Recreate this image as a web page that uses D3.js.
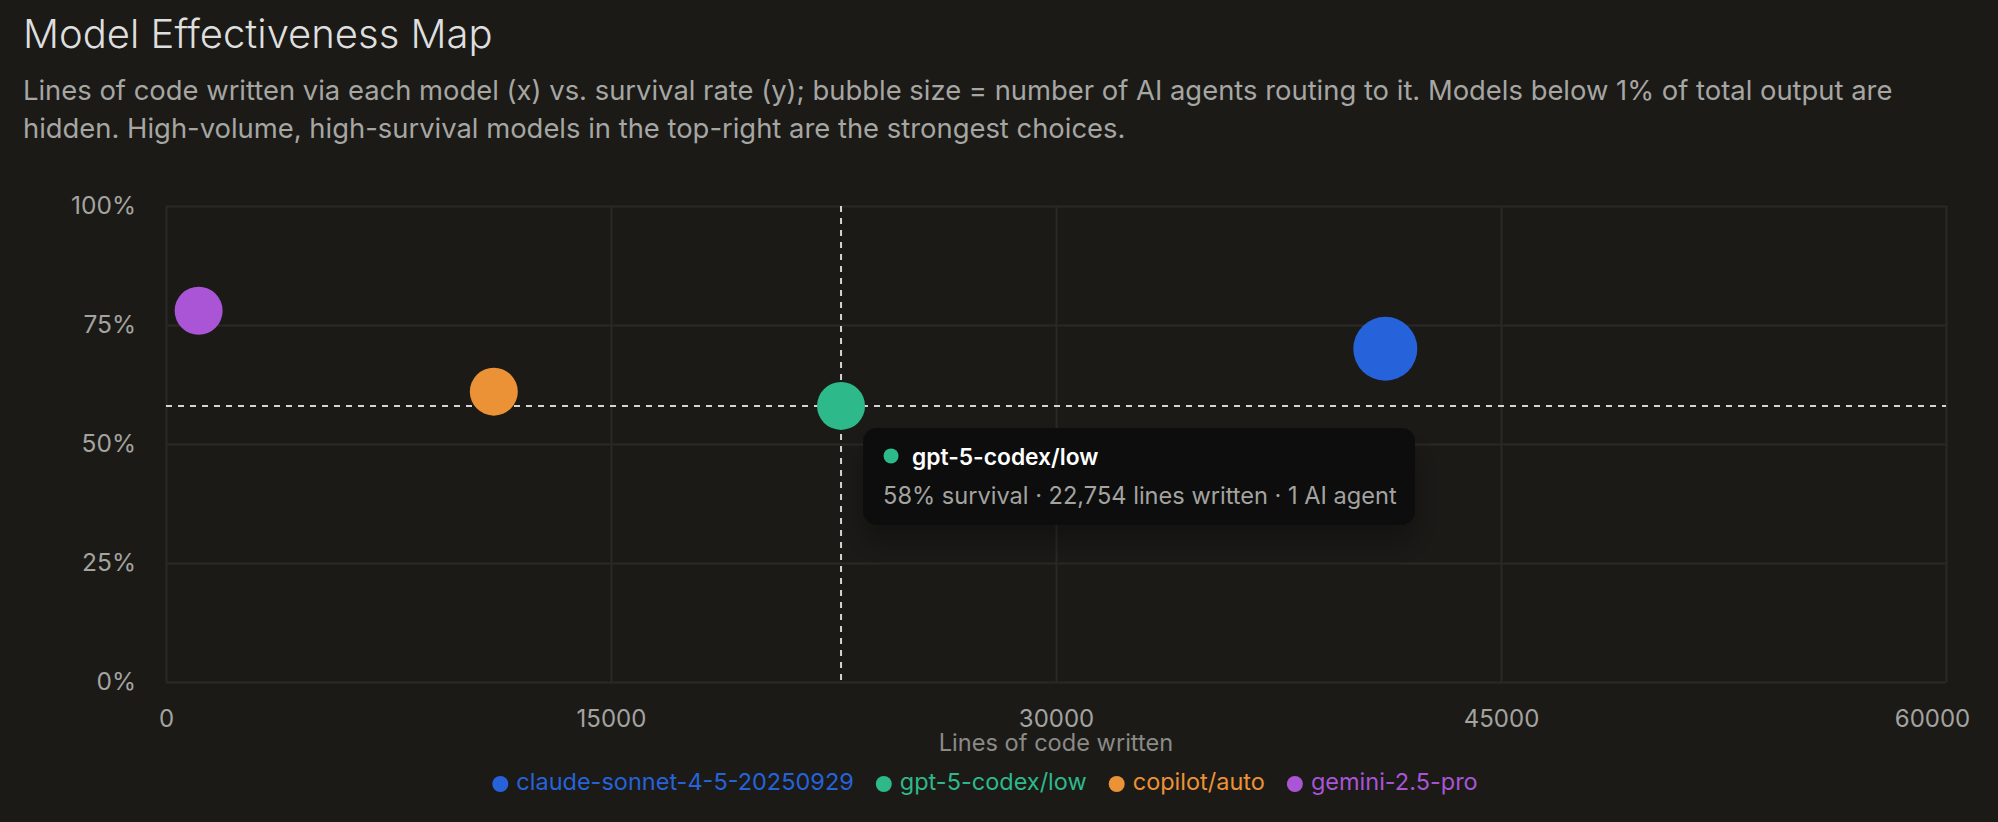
<html>
<head>
  <script src="https://cdn.jsdelivr.net/npm/d3@7"></script>
  <style>
    body { margin: 0; background: #1b1a17; }
    svg text { font-family: Inter, "Noto Sans", sans-serif; }
    .grid line, .grid path { stroke: #2a2926; stroke-width: 2; }
  </style>
</head>
<body>
  <svg id="chart" width="1998" height="822"></svg>
  <script>
    // data
    const models = ["claude-sonnet-4-5-20250929", "gpt-5-codex/low", "copilot/auto", "gemini-2.5-pro"];
    const linesWritten = [41100, 22754, 11050, 1100];
    const survival = [0.70, 0.58, 0.61, 0.78];
    const agents = [2, 1, 1, 1];
    const colors = ["#2663db", "#2eb98a", "#ec9236", "#a955d6"];
    const xTicks = [0, 15000, 30000, 45000, 60000];
    const yTicks = [0, 0.25, 0.5, 0.75, 1];
    const hovered = 1;

    const margin = { top: 206, right: 52, bottom: 140, left: 166 };
    const width = 1998, height = 822;
    const chartWidth = width - margin.left - margin.right;
    const chartHeight = height - margin.top - margin.bottom;

    const svg = d3.select("svg#chart");

    svg.append("text").attr("x", 23).attr("y", 48)
      .attr("font-size", 40).attr("font-weight", 300).attr("fill", "#dedede")
      .text("Model Effectiveness Map");
    const sub = svg.append("text").attr("font-size", 27.4).attr("fill", "#a6a6a3");
    sub.append("tspan").attr("x", 23).attr("y", 100)
      .text("Lines of code written via each model (x) vs. survival rate (y); bubble size = number of AI agents routing to it. Models below 1% of total output are");
    sub.append("tspan").attr("x", 23).attr("y", 138)
      .text("hidden. High-volume, high-survival models in the top-right are the strongest choices.");

    const xScale = d3.scaleLinear().domain([0, 60000]).range([0, chartWidth]);
    const yScale = d3.scaleLinear().domain([0, 1]).range([chartHeight, 0]);
    const rScale = d3.scaleLinear().domain([1, 2]).range([24, 32]);

    const g = svg.append("g").attr("transform", `translate(${margin.left},${margin.top})`);

    g.append("g").attr("class", "grid")
      .call(d3.axisLeft(yScale).tickValues(yTicks).tickSize(-chartWidth).tickFormat(""))
      .call(a => a.select(".domain").remove());
    g.append("g").attr("class", "grid")
      .attr("transform", `translate(0,${chartHeight})`)
      .call(d3.axisBottom(xScale).tickValues(xTicks).tickSize(-chartHeight).tickFormat(""))
      .call(a => a.select(".domain").remove());

    const yAxis = g.append("g")
      .call(d3.axisLeft(yScale).tickValues(yTicks).tickSize(0).tickPadding(30).tickFormat(d3.format(".0%")));
    yAxis.select(".domain").remove();
    yAxis.selectAll("text").attr("font-size", 24.5).attr("fill", "#a3a3a0").style("font-family", "Inter");

    const xAxis = g.append("g").attr("transform", `translate(0,${chartHeight})`)
      .call(d3.axisBottom(xScale).tickValues(xTicks).tickSize(0).tickPadding(28).tickFormat(d3.format("d")));
    xAxis.select(".domain").remove();
    xAxis.selectAll("text").attr("font-size", 24).attr("fill", "#a3a3a0").style("font-family", "Inter")
      .attr("dx", d => d === 60000 ? -14 : 0);

    g.append("text").attr("x", chartWidth / 2).attr("y", chartHeight + 69)
      .attr("text-anchor", "middle").attr("font-size", 23.6).attr("fill", "#8a8a87")
      .text("Lines of code written");

    // crosshair for the hovered model
    const hx = xScale(linesWritten[hovered]), hy = yScale(survival[hovered]);
    g.append("line").attr("x1", 0).attr("x2", chartWidth).attr("y1", hy).attr("y2", hy)
      .attr("stroke", "#d4d4d2").attr("stroke-width", 2).attr("stroke-dasharray", "6 6");
    g.append("line").attr("x1", hx).attr("x2", hx).attr("y1", 0).attr("y2", chartHeight)
      .attr("stroke", "#d4d4d2").attr("stroke-width", 2).attr("stroke-dasharray", "6 6");

    g.selectAll("circle.bubble").data(models).join("circle")
      .attr("class", "bubble")
      .attr("cx", (d, i) => xScale(linesWritten[i]))
      .attr("cy", (d, i) => yScale(survival[i]))
      .attr("r", (d, i) => rScale(agents[i]))
      .attr("fill", (d, i) => colors[i]);

    // tooltip
    const defs = svg.append("defs");
    const f = defs.append("filter").attr("id", "shadow").attr("x", "-20%").attr("y", "-40%").attr("width", "140%").attr("height", "200%");
    f.append("feDropShadow").attr("dx", 0).attr("dy", 18).attr("stdDeviation", 14).attr("flood-color", "#000").attr("flood-opacity", 0.3);

    const tip = g.append("g").attr("transform", `translate(${hx + 22},${hy + 22})`);
    const tipText = `${d3.format(".0%")(survival[hovered])} survival · ${d3.format(",")(linesWritten[hovered])} lines written · ${agents[hovered]} AI agent${agents[hovered] > 1 ? "s" : ""}`;
    tip.append("rect").attr("width", 552).attr("height", 97).attr("rx", 14)
      .attr("fill", "#0b0b0b").attr("filter", "url(#shadow)");
    tip.append("circle").attr("cx", 28).attr("cy", 28).attr("r", 7.5).attr("fill", colors[hovered]);
    tip.append("text").attr("x", 49).attr("y", 37).attr("font-size", 22.8).attr("font-weight", 600)
      .attr("fill", "#ffffff").text(models[hovered]);
    tip.append("text").attr("x", 20).attr("y", 76).attr("font-size", 23.6).attr("fill", "#a3a3a0")
      .text(tipText);

    // legend
    const legend = svg.append("g").attr("transform", "translate(0,784)");
    let lx = 0;
    const items = legend.selectAll("g").data(models).join("g");
    items.append("circle").attr("r", 8).attr("cx", 8).attr("fill", (d, i) => colors[i]);
    items.append("text").attr("x", 24).attr("y", 6).attr("font-size", 23.5)
      .attr("fill", (d, i) => colors[i]).text(d => d);
    items.each(function () {
      d3.select(this).attr("transform", `translate(${lx},0)`);
      lx += this.getBBox().width + 22;
    });
    const legendWidth = lx - 22;
    legend.attr("transform", `translate(${985 - legendWidth / 2},784)`);
  </script>
</body>
</html>
